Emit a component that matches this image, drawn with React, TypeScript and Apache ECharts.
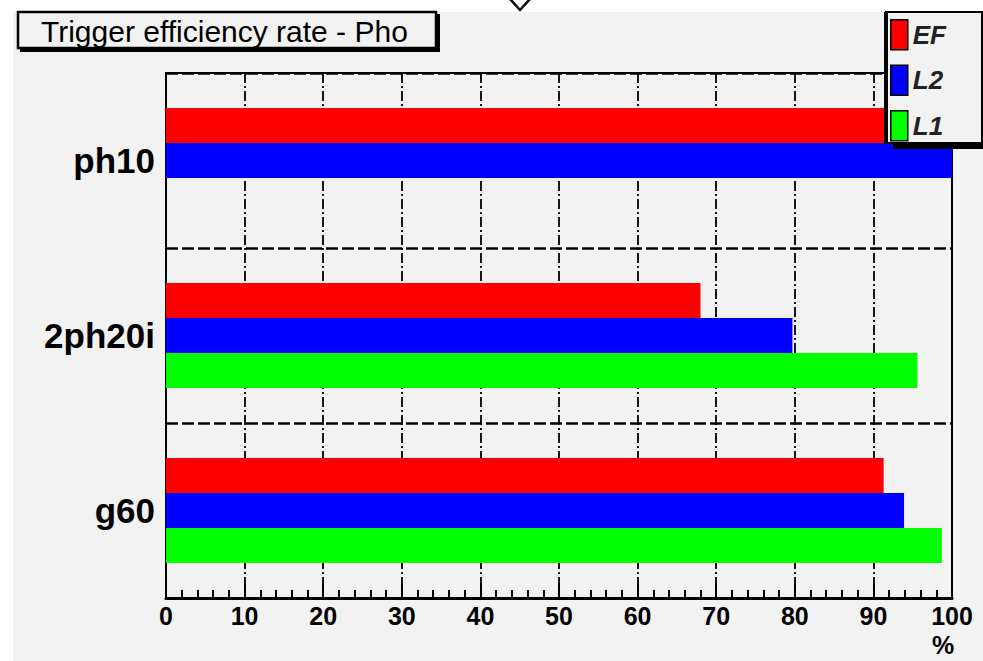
import React, { useEffect, useRef } from "react";
import * as echarts from "echarts";

const categories = ["ph10", "2ph20i", "g60"];
const seriesNames = ["EF", "L2", "L1"];
const efValues = [100, 68, 91.3];
const l2Values = [100, 79.7, 93.9];
const l1Values: (number | string)[] = ["-", 95.6, 98.7];
const seriesColors = ["#ff0000", "#0000ff", "#00ff00"];
const xTicks = [0, 10, 20, 30, 40, 50, 60, 70, 80, 90, 100];

export default function App() {
  const ref = useRef<HTMLDivElement>(null);
  useEffect(() => {
    document.body.style.margin = "0";
    const chart = echarts.init(ref.current!, null, { renderer: "svg" });
    const values = [efValues, l2Values, l1Values];
    chart.setOption({
      animation: false,
      backgroundColor: "#ffffff",
      textStyle: { fontFamily: "Liberation Sans" },
      grid: {
        left: 166,
        right: 31,
        top: 73,
        bottom: 63,
        show: true,
        borderColor: "#000",
        borderWidth: 2,
        backgroundColor: "transparent",
        z: 1,
      },
      legend: {
        data: seriesNames,
        orient: "vertical",
        left: 890,
        top: 19,
        itemWidth: 17,
        itemHeight: 30,
        itemGap: 14,
        padding: 0,
        icon: "rect",
        selectedMode: false,
        itemStyle: { borderColor: "#000", borderWidth: 1.5 },
        textStyle: {
          fontStyle: "italic",
          fontWeight: "bold",
          fontSize: 26,
          color: "#222",
          fontFamily: "Liberation Sans",
        },
        z: 6,
      },
      xAxis: {
        type: "value",
        min: xTicks[0],
        max: xTicks[xTicks.length - 1],
        interval: 10,
        axisLine: { show: true, lineStyle: { color: "#000", width: 3 } },
        axisTick: { show: true, inside: true, length: 15, lineStyle: { color: "#000", width: 2 } },
        minorTick: { show: true, splitNumber: 5, length: 8, lineStyle: { color: "#000", width: 2 } },
        axisLabel: {
          color: "#000",
          fontSize: 25,
          fontWeight: "bold",
          margin: 5,
          fontFamily: "Liberation Sans",
        },
        splitLine: {
          show: true,
          lineStyle: { color: "#000", width: 1.8, type: [10, 3, 2, 3] },
        },
      },
      yAxis: {
        type: "category",
        data: categories,
        inverse: true,
        axisLine: { show: true, lineStyle: { color: "#000", width: 2 } },
        axisTick: { show: false },
        axisLabel: {
          color: "#000",
          fontSize: 35,
          fontWeight: "bold",
          margin: 11,
          fontFamily: "Liberation Sans",
        },
        splitLine: {
          show: true,
          lineStyle: { color: "#000", width: 2.5, type: [12, 4] },
        },
      },
      series: seriesNames.map((name, i) => ({
        name,
        type: "bar",
        data: values[i],
        barWidth: 35,
        barGap: "0%",
        itemStyle: { color: seriesColors[i] },
        z: 2,
      })),
      graphic: [
        {
          type: "rect",
          z: -10,
          silent: true,
          shape: { x: 13, y: 12, width: 983, height: 661 },
          style: { fill: "#f2f2f2" },
        },
        {
          type: "polyline",
          z: 10,
          shape: { points: [[510, -1], [520, 10], [530, -1]] },
          style: { stroke: "#000", lineWidth: 2.5, fill: "none" },
        },
        {
          type: "rect",
          z: 10,
          shape: { x: 20, y: 14, width: 420, height: 38 },
          style: { fill: "#000" },
        },
        {
          type: "rect",
          z: 11,
          shape: { x: 18, y: 12, width: 418, height: 36 },
          style: { fill: "#f2f2f2", stroke: "#000", lineWidth: 2.5 },
        },
        {
          type: "text",
          z: 12,
          x: 41,
          y: 31,
          style: {
            text: "Trigger efficiency rate - Pho",
            fontSize: 30,
            fontFamily: "Liberation Sans",
            fill: "#000",
            verticalAlign: "middle",
            align: "left",
          },
        },
        {
          type: "rect",
          z: 4,
          shape: { x: 893, y: 140, width: 92, height: 9 },
          style: { fill: "#000" },
        },
        {
          type: "rect",
          z: 5,
          shape: { x: 886, y: 12, width: 96, height: 131 },
          style: { fill: "#f2f2f2", stroke: "#000", lineWidth: 2 },
        },
        {
          type: "rect",
          z: 5,
          shape: { x: 884, y: 12, width: 4, height: 131 },
          style: { fill: "#000" },
        },
        {
          type: "text",
          z: 12,
          x: 943,
          y: 645,
          style: {
            text: "%",
            fontSize: 25,
            fontWeight: "bold",
            fontFamily: "Liberation Sans",
            fill: "#000",
            verticalAlign: "middle",
            align: "center",
          },
        },
      ],
    });
    return () => chart.dispose();
  }, []);
  return <div ref={ref} style={{ width: 983, height: 661 }} />;
}
